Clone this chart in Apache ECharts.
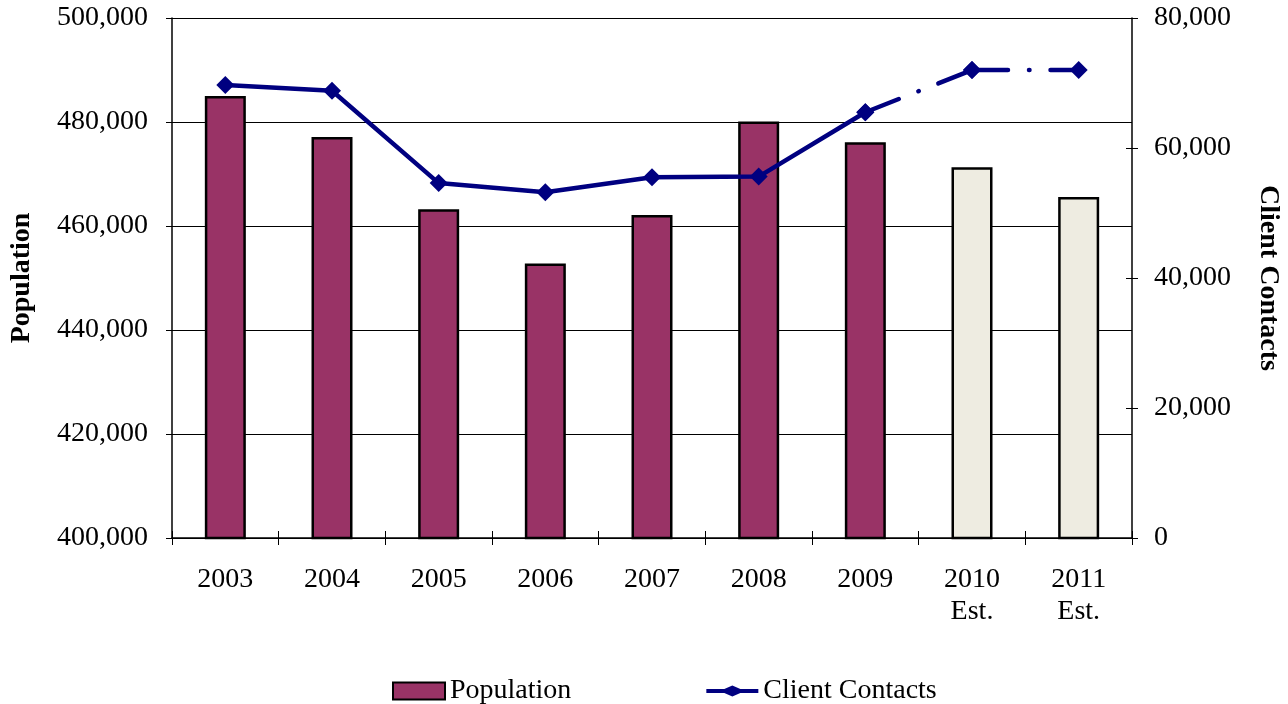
<!DOCTYPE html>
<html>
<head>
<meta charset="utf-8">
<script src="https://cdn.jsdelivr.net/npm/echarts@6/dist/echarts.min.js"></script>
<style>
  html, body { margin: 0; padding: 0; background: #ffffff; }
  #chart { width: 1288px; height: 704px; }
</style>
</head>
<body>
<div id="chart"></div>
<script>
// Years shown on the category axis; the last two are estimates
const categories = ['2003', '2004', '2005', '2006', '2007', '2008', '2009', '2010\nEst.', '2011\nEst.'];
const estimateStart = 7; // index of the first estimated year

// Population (left axis)
const population = [485000, 477100, 463200, 452800, 462100, 480100, 476100, 471300, 465600];

// Client contacts (right axis)
const clientContacts = [69700, 68800, 54600, 53200, 55500, 55600, 65500, 72000, 72000];

// Axis tick values
const popTicks = { min: 400000, max: 500000, interval: 20000 };
const contactTicks = { min: 0, max: 80000, interval: 20000 };

const FONT = '"Liberation Serif", "Times New Roman", serif';
const FS = 28;
const NAVY = '#000080';
const PLUM = '#993366';
const BEIGE = '#EEECE1';

const fmt = v => v.toLocaleString('en-US');

// Actual contacts drawn solid; each projected leg drawn as its own dash-dot segment
const solidData = clientContacts.map((v, i) => (i < estimateStart ? v : '-'));
const segment = (a, b) => clientContacts.map((v, i) => (i === a || i === b ? v : '-'));
const projected = [];
for (let i = estimateStart - 1; i < clientContacts.length - 1; i++) projected.push(segment(i, i + 1));

const barData = population.map((v, i) => ({
  value: v,
  itemStyle: { color: i >= estimateStart ? BEIGE : PLUM }
}));

// Legend glyph: line with a flattened diamond, in a 52x17 box
const lineDiamondIcon = 'path://M0,0L0.01,0ZM0,17L0.01,17Z' +
  'M0,6.5L18,6.5L26,3L34,6.5L52,6.5L52,10.5L34,10.5L26,14L18,10.5L0,10.5Z';

const chart = echarts.init(document.getElementById('chart'), null, { renderer: 'canvas' });

const lineCommon = {
  type: 'line',
  yAxisIndex: 1,
  symbol: 'diamond',
  symbolSize: 18,
  showSymbol: true,
  itemStyle: { color: NAVY },
  animation: false,
  z: 5
};

const option = {
  animation: false,
  backgroundColor: '#ffffff',
  textStyle: { fontFamily: FONT, color: '#000' },
  grid: { left: 172, right: 156, top: 18, bottom: 166, containLabel: false, outerBoundsMode: 'none', show: false },
  legend: {
    data: [
      { name: 'Population', icon: 'rect' },
      { name: 'Client Contacts', icon: lineDiamondIcon, itemStyle: { color: NAVY, borderWidth: 0 } }
    ],
    left: 392,
    top: 677,
    padding: 0,
    itemWidth: 52,
    itemHeight: 17,
    itemGap: 135,
    textStyle: { fontFamily: FONT, fontSize: FS, color: '#000' }
  },
  xAxis: [
    {
      type: 'category',
      data: categories,
      boundaryGap: true,
      axisLine: { show: true, lineStyle: { color: '#000', width: 1.5 } },
      axisTick: { show: true, length: 7, inside: false, lineStyle: { color: '#000' } },
      axisLabel: { fontFamily: FONT, fontSize: FS, color: '#000', margin: 26, lineHeight: 32 },
      splitLine: { show: false }
    },
    {
      // inner half of the crossing category ticks
      type: 'category',
      data: categories,
      position: 'bottom',
      boundaryGap: true,
      axisLine: { show: false },
      axisTick: { show: true, length: 7, inside: true, lineStyle: { color: '#000' } },
      axisLabel: { show: false },
      splitLine: { show: false }
    }
  ],
  yAxis: [
    {
      type: 'value',
      min: popTicks.min, max: popTicks.max, interval: popTicks.interval,
      position: 'left',
      name: 'Population',
      nameLocation: 'middle',
      nameGap: 136,
      nameTextStyle: { fontFamily: FONT, fontSize: FS, fontWeight: 'bold', color: '#000' },
      axisLine: { show: true, lineStyle: { color: '#000', width: 1.5 } },
      axisTick: { show: true, length: 6, lineStyle: { color: '#000' } },
      axisLabel: { fontFamily: FONT, fontSize: FS, color: '#000', margin: 24, formatter: fmt },
      splitLine: { show: true, lineStyle: { color: '#000', width: 1 } }
    },
    {
      type: 'value',
      min: contactTicks.min, max: contactTicks.max, interval: contactTicks.interval,
      position: 'right',
      name: 'Client Contacts',
      nameLocation: 'middle',
      nameGap: 122,
      nameRotate: -90,
      nameTextStyle: { fontFamily: FONT, fontSize: FS, fontWeight: 'bold', color: '#000' },
      axisLine: { show: true, lineStyle: { color: '#000', width: 1.5 } },
      axisTick: { show: true, length: 6, lineStyle: { color: '#000' } },
      axisLabel: { fontFamily: FONT, fontSize: FS, color: '#000', margin: 22, formatter: fmt },
      splitLine: { show: false }
    },
    {
      // inner half of the crossing ticks on the left axis
      type: 'value',
      min: popTicks.min, max: popTicks.max, interval: popTicks.interval,
      position: 'left',
      axisLine: { show: false },
      axisTick: { show: true, inside: true, length: 6, lineStyle: { color: '#000' } },
      axisLabel: { show: false },
      splitLine: { show: false }
    },
    {
      // inner half of the crossing ticks on the right axis
      type: 'value',
      min: contactTicks.min, max: contactTicks.max, interval: contactTicks.interval,
      position: 'right',
      axisLine: { show: false },
      axisTick: { show: true, inside: true, length: 6, lineStyle: { color: '#000' } },
      axisLabel: { show: false },
      splitLine: { show: false }
    }
  ],
  series: [
    {
      name: 'Population',
      type: 'bar',
      yAxisIndex: 0,
      data: barData,
      barWidth: 41,
      itemStyle: { color: PLUM, borderColor: '#000', borderWidth: 2.5 },
      z: 2
    },
    Object.assign({}, lineCommon, {
      name: 'Client Contacts',
      data: solidData,
      lineStyle: { color: NAVY, width: 4.5 }
    }),
    ...projected.map((d, k) => Object.assign({}, lineCommon, {
      name: 'Client Contacts (est. ' + k + ')',
      data: d,
      lineStyle: { color: NAVY, width: 4.5, type: [36, 21, 0.5, 21], cap: 'round' }
    }))
  ]
};

chart.setOption(option);
</script>
</body>
</html>
